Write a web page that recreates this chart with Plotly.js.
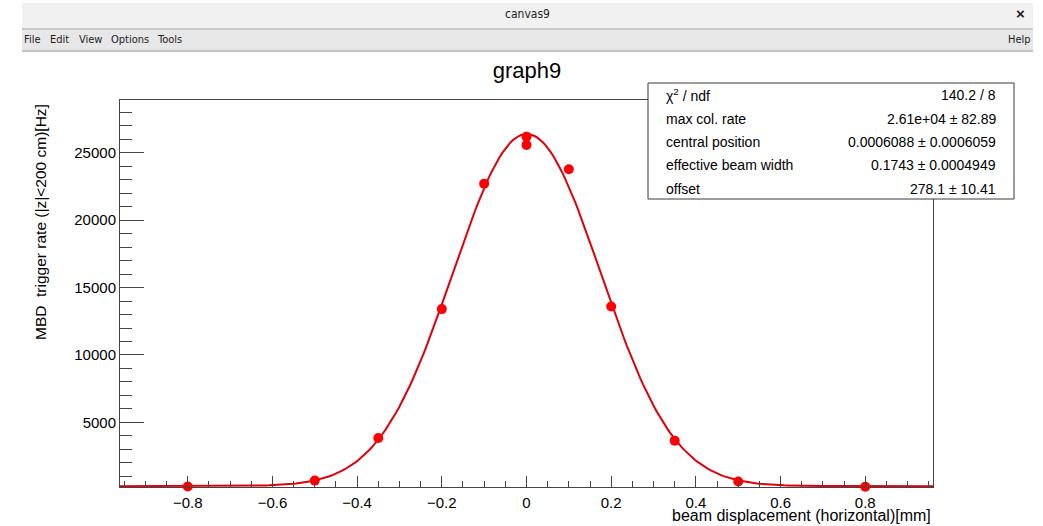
<!DOCTYPE html>
<html><head><meta charset="utf-8">
<script src="https://cdn.plot.ly/plotly-3.0.1.min.js"></script>
<style>html,body{margin:0;padding:0;background:#fff;overflow:hidden}</style>
</head><body><div id="chart" style="width:1043px;height:526px"></div>
<script>
// ---- data ----
const xValues = [-0.8, -0.5, -0.35, -0.2, -0.1, 0, 0, 0.1, 0.2, 0.35, 0.5, 0.8];
const yValues = [255, 690, 3850, 13400, 22700, 26185, 25570, 23770, 13600, 3650, 620, 235];
// fit parameters (from the stats box)
const fitAmplitude = 26100;
const fitMean = 0.0006088;
const fitSigma = 0.1743;
const fitOffset = 278.1;
const statLabels = ['\u03c7<sup>2</sup> / ndf', 'max col. rate', 'central position', 'effective beam width', 'offset'];
const statValues = ['140.2 / 8', '2.61e+04 \u00b1 82.89', '0.0006088 \u00b1 0.0006059', '0.1743 \u00b1 0.0004949', '278.1 \u00b1 10.41'];
const xRange = [-0.96, 0.96];
const yRange = [215, 28900];
const menuItems = ['File', 'Edit', 'View', 'Options', 'Tools'];

// fit curve evaluated from the fit parameters
const fitX = [], fitY = [];
const nFit = 300;
for (let i = 0; i <= nFit; i++) {
  const x = xRange[0] + (xRange[1] - xRange[0]) * i / nFit;
  fitX.push(x);
  fitY.push(fitOffset + fitAmplitude * Math.exp(-0.5 * Math.pow((x - fitMean) / fitSigma, 2)));
}

// ---- layout helpers (pixel -> paper) ----
const L = 120, R = 933, T = 100, B = 487;
const W = R - L, H = B - T;
const px = x => (x - L) / W;
const py = y => (B - y) / H;
const FONT = 'Liberation Sans, Arial, Helvetica, sans-serif';
const UI = 'Liberation Sans Narrow, DejaVu Sans Condensed, Liberation Sans, sans-serif';

const shapes = [
  // window chrome
  {type:'rect', xref:'paper', yref:'paper', x0:px(22), x1:px(1033), y0:py(28), y1:py(3), fillcolor:'#f1f1f1', line:{width:0}, layer:'below'},
  {type:'rect', xref:'paper', yref:'paper', x0:px(22), x1:px(1033), y0:py(30), y1:py(28), fillcolor:'#c9c9c9', line:{width:0}, layer:'below'},
  {type:'rect', xref:'paper', yref:'paper', x0:px(22), x1:px(1033), y0:py(50), y1:py(30), fillcolor:'#e7e7e7', line:{width:0}, layer:'below'},
  {type:'rect', xref:'paper', yref:'paper', x0:px(22), x1:px(1033), y0:py(52), y1:py(50), fillcolor:'#c4c4c4', line:{width:0}, layer:'below'},
  // stats box
  {type:'rect', xref:'paper', yref:'paper', x0:px(648), x1:px(1014), y0:py(199), y1:py(83), fillcolor:'#ffffff', line:{color:'#3a3a3a', width:1}, layer:'above'}
];

const annotations = [
  {text:'canvas9', xref:'paper', yref:'paper', x:px(527), y:py(14), xanchor:'center', yanchor:'middle', showarrow:false, font:{family:UI, size:12, color:'#222'}},
  {text:'<b>\u00d7</b>', xref:'paper', yref:'paper', x:px(1020), y:py(14), xanchor:'center', yanchor:'middle', showarrow:false, font:{family:FONT, size:15, color:'#222'}},
  {text:'Help', xref:'paper', yref:'paper', x:px(1033), y:py(40), xanchor:'right', yanchor:'middle', showarrow:false, font:{family:UI, size:11, color:'#222'}},
  // axis titles
  {text:'MBD\u00a0 trigger rate (|z|&lt;200 cm)[Hz]', xref:'paper', yref:'paper', x:px(40), y:py(102), xanchor:'center', yanchor:'top', textangle:-90, showarrow:false, font:{family:FONT, size:15.5, color:'#000'}},
  {text:'beam displacement (horizontal)[mm]', xref:'paper', yref:'paper', x:1, y:py(515), xanchor:'right', yanchor:'middle', showarrow:false, font:{family:FONT, size:16, color:'#000'}}
];
const menuX = [22, 48, 77, 109, 155];
menuItems.forEach((m, i) => annotations.push({text:m, xref:'paper', yref:'paper', x:px(menuX[i]), y:py(40), xanchor:'left', yanchor:'middle', showarrow:false, font:{family:UI, size:11, color:'#222'}}));
const rowY = [95, 119, 142, 165, 189];
statLabels.forEach((s, i) => {
  annotations.push({text:s, xref:'paper', yref:'paper', x:px(664), y:py(rowY[i]), xanchor:'left', yanchor:'middle', showarrow:false, font:{family:FONT, size:14, color:'#000'}});
  annotations.push({text:statValues[i], xref:'paper', yref:'paper', x:px(998), y:py(rowY[i]), xanchor:'right', yanchor:'middle', showarrow:false, font:{family:FONT, size:14, color:'#000'}});
});

const traces = [
  {x:fitX, y:fitY, type:'scatter', mode:'lines', line:{color:'#e0000b', width:2}, hoverinfo:'skip', showlegend:false},
  {x:xValues, y:yValues, type:'scatter', mode:'markers', marker:{color:'#ff0000', size:10, symbol:'circle'}, showlegend:false, cliponaxis:false}
];

const layout = {
  width:1043, height:526,
  margin:{l:L, r:1043-R, t:T, b:526-B, pad:0},
  paper_bgcolor:'#ffffff', plot_bgcolor:'#ffffff',
  showlegend:false,
  title:{text:'graph9', x:px(527), xref:'paper', xanchor:'center', y:1-70/526, yref:'container', yanchor:'middle', font:{family:FONT, size:22, color:'#000'}},
  xaxis:{range:xRange, tick0:0, dtick:0.2, ticks:'inside', ticklen:11, tickwidth:1, tickcolor:'#444',
         minor:{dtick:0.05, ticks:'inside', ticklen:6, tickcolor:'#444', showgrid:false},
         showgrid:false, zeroline:false, showline:true, mirror:true, linecolor:'#444', linewidth:1,
         tickfont:{family:FONT, size:15, color:'#000'}, tickformat:'.1~f', ticklabelstandoff:2},
  yaxis:{range:yRange, tick0:0, dtick:5000, ticks:'inside', ticklen:24, tickwidth:1, tickcolor:'#444',
         minor:{dtick:1000, ticks:'inside', ticklen:12, tickcolor:'#444', showgrid:false},
         showgrid:false, zeroline:false, showline:true, mirror:true, linecolor:'#444', linewidth:1,
         tickfont:{family:FONT, size:15, color:'#000'}, tickformat:'d', showexponent:'none'},
  shapes:shapes, annotations:annotations
};

Plotly.newPlot('chart', traces, layout, {staticPlot:true, displayModeBar:false});
</script>
</body></html>
